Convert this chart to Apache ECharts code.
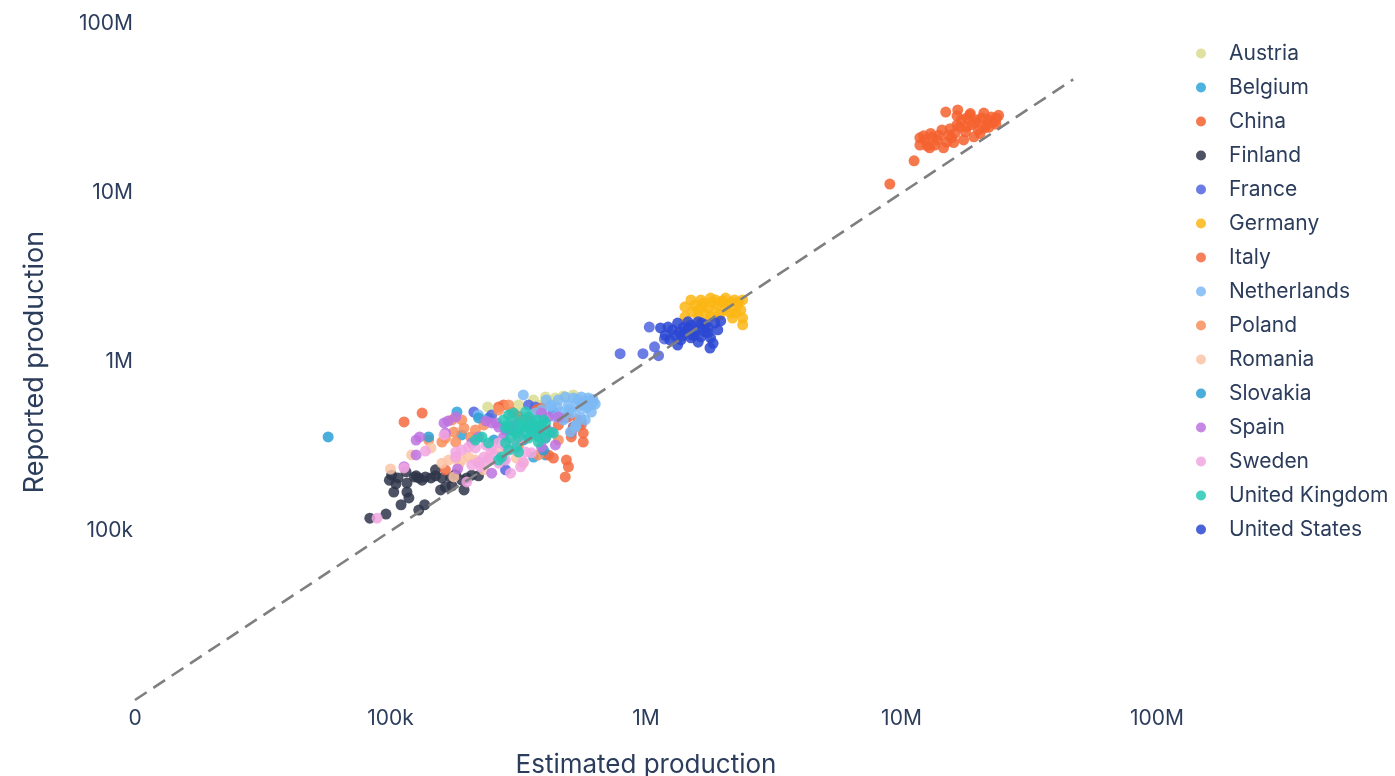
<!DOCTYPE html>
<html>
<head>
<meta charset="utf-8">
<script src="https://cdn.jsdelivr.net/npm/echarts@6/dist/echarts.min.js"></script>
<style>
  html, body { margin: 0; padding: 0; background: #ffffff; }
  #chart { width: 1395px; height: 776px; }
</style>
</head>
<body>
<div id="chart"></div>
<script>
// Estimated vs reported production, values in thousands: [estimated, reported]
const countries = ['Austria', 'Belgium', 'China', 'Finland', 'France', 'Germany', 'Italy',
  'Netherlands', 'Poland', 'Romania', 'Slovakia', 'Spain', 'Sweden', 'United Kingdom', 'United States'];

const colors = ['#d9dc8f', '#2fa5dc', '#f4622f', '#2e3549', '#5166e0', '#fbb614', '#f5693f',
  '#7dbaf5', '#f98d5c', '#fbc4a6', '#2a9fd4', '#bd72e0', '#f2a6e0', '#26c8b4', '#2c48d2'];

const austria = [[240,542],[363,596],[404,621],[442,613],[475,630],[390,557],[519,638],[317,557]];

const belgium = [[182,506],[190,370],[363,274],[404,282],[277,263],[242,467],[290,396],[331,345]];

const china = [[9000,11300],[11200,15500],[14900,30100],[16600,31000],[16500,28600],[18500,28900],
  [21000,29700],[22500,28200],[11800,21200],[11800,19200],[12900,18500],[13200,21500],[14400,23600],
  [15000,20000],[16200,22600],[18000,24600],[19700,27000],[21500,25300],[23000,26300],[19200,21500],
  [17500,20600],[14600,18500],[12400,20600],[13800,20600],[15700,21200],[16900,24600],[18800,25300],
  [20600,27800],[21900,27000],[23600,27800],[17200,27000],[20000,23600],[15300,22000],[13500,19200],
  [18000,27800],[21200,24300],[23400,25600],[16500,25300],[14000,22000],[12600,19000],
  [19500,26000],[22000,24500],[20300,22500],[17800,23000],[15500,24000],[13000,22500],[24000,28800],
  [18600,29500],[12200,21800],[16000,19900]];

const finland = [[101,214],[107,206],[105,190],[115,224],[124,209],[129,206],[137,209],[144,206],
  [150,230],[159,206],[164,182],[157,175],[103,170],[116,170],[118,157],[110,143],[136,143],[129,133],
  [96,126],[83,119],[172,206],[180,217],[174,185],[190,200],[194,175],[208,214],[221,212],[199,206],
  [116,192],[126,212],[133,200],[150,212],[99,200]];

const france = [[792,1120],[973,1120],[1120,1090],[1080,1230],[1180,1370],[1030,1610],[212,506],
  [249,486],[282,230],[347,557],[369,542],[434,506],[483,467],[510,380],[519,412],[558,442]];

const germany = [[1420,2120],[1420,1850],[1500,2330],[1640,2330],[1790,2390],[1960,2270],[2220,2330],
  [2390,2330],[1600,2030],[1750,2090],[1860,1980],[2030,2030],[2140,1950],[2350,2030],[2390,1820],
  [2390,1660],[1600,1850],[1790,1850],[1670,2230],[1910,2170],[2090,2170],[2280,2170],[1520,1980],
  [1710,1920],[1940,1900],[2180,1820],[1870,2330],[2050,2390],[1550,2170],[2240,1950],
  [1800,2250],[2000,2300],[2150,2250],[1650,2100],[2300,2250]];

const italy = [[113,442],[133,499],[265,542],[277,557],[373,520],[390,534],[497,473],[543,454],
  [558,424],[568,380],[510,360],[568,336],[488,263],[497,240],[483,209],[434,270],[415,282],[164,230],
  [298,506],[454,424],[347,454],[519,406],[317,479]];

const netherlands = [[331,638],[221,486],[483,621],[519,613],[558,621],[594,613],[622,579],[497,557],
  [543,542],[583,534],[611,506],[466,506],[510,499],[553,473],[529,412],[578,454],[506,385],[442,473],
  [422,542],[390,520],[369,499],[407,596],[426,557],[454,596],[633,564],[568,579],[533,424],[475,454],
  [540,600],[600,590],[620,600],[560,560],[500,520],[590,545],[610,560],[450,540]];

const poland = [[159,336],[164,355],[177,385],[180,336],[190,454],[194,406],[215,396],[206,360],
  [265,520],[290,557],[232,424],[317,323],[379,282],[454,345],[174,454],[141,345]];

const romania = [[100,233],[121,282],[144,310],[159,252],[169,263],[180,270],[190,263],[202,274],
  [215,263],[177,209],[311,270],[331,252],[242,270],[265,301],[185,246],[232,230]];

const slovakia = [[57,360],[141,360],[221,467],[254,345],[397,301]];

const spain = [[162,436],[168,448],[180,473],[164,380],[126,345],[130,360],[126,282],[113,240],
  [183,233],[249,220],[249,436],[236,448],[265,412],[282,396],[298,412],[317,380],[356,412],[379,380],
  [404,355],[426,385],[442,323],[454,473],[390,499],[221,360],[208,332],[260,436],[303,424],[415,473],
  [390,314],[277,360]];

const sweden = [[88.6,119],[113,236],[137,297],[162,370],[180,293],[190,301],[202,314],[215,310],
  [236,323],[249,314],[265,332],[282,314],[221,256],[242,263],[265,252],[282,263],[225,240],[295,220],
  [199,195],[308,301],[338,293],[356,290],[323,240],[295,332],[247,301],[232,274],[258,282],[208,246],
  [180,274],[317,345],[331,256]];

const unitedKingdom = [[277,454],[290,486],[303,499],[326,454],[347,473],[373,454],[404,436],[282,406],
  [303,396],[331,412],[356,396],[386,396],[415,385],[434,380],[295,355],[317,360],[347,355],[379,360],
  [282,332],[311,314],[379,336],[404,355],[228,360],[215,345],[242,332],[272,274],[290,301],[317,293],
  [338,506],[265,263],[397,454],[320,430],[345,420],[360,440],[300,445],[335,395],[370,415],[390,420],
  [310,380],[355,375],[285,420]];

const unitedStates = [[1140,1590],[1220,1610],[1330,1700],[1460,1730],[1600,1730],[1700,1660],
  [1860,1700],[1960,1750],[1300,1440],[1420,1510],[1550,1550],[1700,1510],[1370,1350],[1500,1390],
  [1640,1410],[1790,1390],[1330,1260],[1600,1310],[1830,1290],[1780,1210],[1190,1440],[1750,1490],
  [1270,1550],[1460,1590],[1520,1440],[1670,1590],[1390,1430],[1910,1550],[1240,1350],
  [1500,1650],[1650,1700],[1400,1600],[1550,1450],[1750,1600],[1350,1500]];

const seriesData = [austria, belgium, china, finland, france, germany, italy, netherlands,
  poland, romania, slovakia, spain, sweden, unitedKingdom, unitedStates];

// Reference line where estimated equals reported (values in thousands)
const parityLine = [[10, 10], [47000, 47000]];

const axisTickLabels = { 1e4: '0', 1e5: '100k', 1e6: '1M', 1e7: '10M', 1e8: '100M' };

const textColor = '#2c3d5c';
const fontFamily = 'Inter, "Noto Sans", sans-serif';

const scatterSeries = countries.map((name, i) => ({
  name: name,
  type: 'scatter',
  symbol: 'circle',
  symbolSize: 11,
  data: seriesData[i].map(p => [p[0] * 1000, p[1] * 1000]),
  itemStyle: { color: colors[i], opacity: 0.85 },
  emphasis: { disabled: true }
}));

const chart = echarts.init(document.getElementById('chart'), null, { renderer: 'canvas' });

chart.setOption({
  animation: false,
  backgroundColor: '#ffffff',
  color: colors,
  grid: { left: 135, right: 238, top: 24, bottom: 76, containLabel: false, outerBoundsMode: 'none' },
  legend: {
    data: countries,
    orient: 'vertical',
    left: 1191,
    top: 38,
    itemWidth: 10,
    itemHeight: 10,
    itemGap: 13,
    icon: 'circle',
    textStyle: {
      color: textColor,
      fontSize: 21,
      fontFamily: fontFamily,
      lineHeight: 21,
      padding: [0, 0, 0, 18]
    }
  },
  xAxis: {
    type: 'log',
    logBase: 10,
    min: 1e4,
    max: 1e8,
    name: 'Estimated production',
    nameLocation: 'middle',
    nameGap: 52,
    nameTextStyle: { color: textColor, fontSize: 26, fontFamily: fontFamily },
    axisLine: { show: false },
    axisTick: { show: false },
    splitLine: { show: false },
    axisLabel: {
      color: textColor,
      fontSize: 21,
      fontFamily: fontFamily,
      margin: 8,
      formatter: v => axisTickLabels[Math.round(v)] || ''
    }
  },
  yAxis: {
    type: 'log',
    logBase: 10,
    min: 1e4,
    max: 1e8,
    name: 'Reported production',
    nameLocation: 'middle',
    nameGap: 87,
    nameRotate: 90,
    nameTextStyle: { color: textColor, fontSize: 27, fontFamily: fontFamily },
    axisLine: { show: false },
    axisTick: { show: false },
    splitLine: { show: false },
    axisLabel: {
      color: textColor,
      fontSize: 21,
      fontFamily: fontFamily,
      margin: 2,
      formatter: v => (Math.round(v) === 1e4 ? '' : (axisTickLabels[Math.round(v)] || ''))
    }
  },
  series: scatterSeries.concat([{
    name: 'parity',
    type: 'line',
    data: parityLine.map(p => [p[0] * 1000, p[1] * 1000]),
    symbol: 'none',
    silent: true,
    z: 5,
    lineStyle: { color: '#7f7f7f', width: 2.6, type: [14, 8] }
  }])
});
</script>
</body>
</html>
